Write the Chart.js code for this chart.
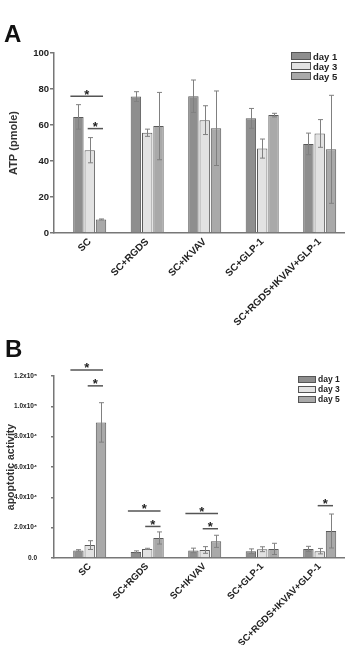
<!DOCTYPE html>
<html>
<head>
<meta charset="utf-8">
<script src="https://cdn.jsdelivr.net/npm/chart.js@4.4.1/dist/chart.umd.min.js"></script>
<style>
  body { margin: 0; width: 345px; height: 645px; overflow: hidden; background: #fff; position: relative;
         font-family: "Liberation Sans", Arial, sans-serif; color: #222; }
  canvas { position: absolute; left: 0; }
  .panel { position: absolute; font-weight: bold; font-size: 24px; line-height: 24px; color: #111; }
  .legend { position: absolute; font-weight: bold; color: #222; }
  .legend div { display: flex; align-items: center; height: 10px; }
  .legend span.box { display: inline-block; box-sizing: border-box; border: 1px solid #555; margin-right: 2px; }
</style>
</head>
<body>
<canvas id="chartA" width="345" height="330" style="top:0"></canvas>
<canvas id="chartB" width="345" height="315" style="top:330px"></canvas>
<div class="panel" style="left:4px; top:22px">A</div>
<div class="panel" style="left:5px; top:337px">B</div>
<div class="legend" id="legendA" style="left:291px; top:51px; font-size:9.5px"></div>
<div class="legend" id="legendB" style="left:298px; top:374px; font-size:8.5px"></div>
<script>
  // Données
  const categories = ['SC', 'SC+RGDS', 'SC+IKVAV', 'SC+GLP-1', 'SC+RGDS+IKVAV+GLP-1'];
  const seriesNames = ['day 1', 'day 3', 'day 5'];
  const seriesColors = ['#8e8e8e', '#e2e2e2', '#a9a9a9'];

  // A : ATP (pmole)
  const atpDay1 = [64.5, 75.8, 76, 63.7, 49.5];
  const atpDay3 = [46, 55.7, 62.7, 46.9, 55.3];
  const atpDay5 = [7.5, 59.4, 58.2, 65.5, 46.5];
  const atpErr1 = [6.8, 2.7, 9, 5.5, 6];
  const atpErr3 = [7, 2, 8, 5.3, 7.7];
  const atpErr5 = [0.3, 18.7, 20.7, 1, 30];
  const atpTicks = [0, 20, 40, 60, 80, 100];
  // [catégorie, série de départ, série d'arrivée, niveau]
  const atpSig = [[0, 0, 2, 76], [0, 1, 2, 58]];

  // B : apoptotic activity
  const apoDay1 = [5000, 4000, 5000, 4500, 6000];
  const apoDay3 = [8500, 6000, 5300, 5800, 4500];
  const apoDay5 = [89400, 13200, 11000, 6000, 17800];
  const apoErr1 = [500, 700, 1500, 1500, 1700];
  const apoErr3 = [2900, 400, 2200, 1600, 1800];
  const apoErr5 = [13000, 4000, 4000, 3700, 11200];
  const apoTicks = [0, 20000, 40000, 60000, 80000, 100000, 120000];
  const apoTickLabels = ['0.0', '2.0x10⁴', '4.0x10⁴', '6.0x10⁴', '8.0x10⁴', '1.0x10⁵', '1.2x10⁵'];
  const apoSig = [[0, 0, 2, 124000], [0, 1, 2, 113500], [1, 0, 2, 31000], [1, 1, 2, 20800],
                  [2, 0, 2, 29400], [2, 1, 2, 19300], [4, 1, 2, 34500]];

  Chart.defaults.font.family = '"Liberation Sans", Arial, sans-serif';
  Chart.defaults.color = '#222';

  // barres d'erreur
  function errorBars(errs) {
    return {
      id: 'errorBars',
      afterDatasetsDraw(chart) {
        const ctx = chart.ctx, y = chart.scales.y;
        ctx.save();
        ctx.strokeStyle = '#808080';
        ctx.lineWidth = 1;
        chart.data.datasets.forEach((ds, di) => {
          chart.getDatasetMeta(di).data.forEach((bar, i) => {
            const v = ds.data[i].y, e = errs[di][i];
            const x = Math.round(bar.x) + 0.5;
            const top = y.getPixelForValue(v + e), bot = y.getPixelForValue(Math.max(v - e, 0));
            ctx.beginPath();
            ctx.moveTo(x, top); ctx.lineTo(x, bot);
            ctx.moveTo(x - 2.5, top); ctx.lineTo(x + 2.5, top);
            ctx.moveTo(x - 2.5, bot); ctx.lineTo(x + 2.5, bot);
            ctx.stroke();
          });
        });
        ctx.restore();
      }
    };
  }

  // lignes de significativité + étoiles
  function sigMarks(marks) {
    return {
      id: 'sigMarks',
      afterDatasetsDraw(chart) {
        const ctx = chart.ctx, y = chart.scales.y;
        ctx.save();
        ctx.strokeStyle = '#555';
        ctx.lineWidth = 1.5;
        ctx.fillStyle = '#222';
        ctx.font = 'bold 13px "Liberation Sans", Arial, sans-serif';
        ctx.textAlign = 'center';
        ctx.textBaseline = 'alphabetic';
        marks.forEach(([cat, from, to, level]) => {
          const b1 = chart.getDatasetMeta(from).data[cat];
          const b2 = chart.getDatasetMeta(to).data[cat];
          const yy = y.getPixelForValue(level);
          const x1 = b1.x - (from === 0 ? 8 : 2), x2 = b2.x + 2;
          ctx.beginPath();
          ctx.moveTo(x1, yy); ctx.lineTo(x2, yy);
          ctx.stroke();
          ctx.fillText('*', (x1 + x2) / 2, yy + 2.5);
        });
        ctx.restore();
      }
    };
  }

  function makeChart(id, series, errs, marks, opts) {
    new Chart(document.getElementById(id), {
      type: 'bar',
      data: {
        datasets: series.map((vals, k) => ({
          label: seriesNames[k],
          data: vals.map((v, i) => ({ x: i, y: v })),
          backgroundColor: seriesColors[k],
          borderColor: '#5a5a5a',
          borderWidth: 1,
          categoryPercentage: 0.59,
          barPercentage: 0.92
        }))
      },
      options: {
        responsive: false,
        animation: false,
        layout: { padding: { top: opts.top, right: 0, bottom: 0, left: 0 } },
        plugins: { legend: { display: false }, tooltip: { enabled: false } },
        scales: {
          x: {
            type: 'linear',
            offset: false,
            min: -0.621,
            max: 4.44,
            afterBuildTicks: (s) => { s.ticks = categories.map((c, i) => ({ value: i })); },
            afterFit: (s) => { s.height = opts.xHeight; },
            grid: { display: false, drawTicks: false },
            border: { color: '#777', width: 1.5 },
            ticks: {
              autoSkip: false,
              minRotation: 45,
              maxRotation: 45,
              padding: 3,
              font: { size: opts.xFont, weight: 'bold' },
              callback: (v) => categories[v] ?? ''
            }
          },
          y: {
            min: 0,
            max: opts.yMax,
            afterBuildTicks: (s) => { s.ticks = opts.yTicks.map(v => ({ value: v })); },
            afterFit: (s) => { s.width = 54; },
            grid: { drawOnChartArea: false, tickLength: opts.tickLen, color: '#777', lineWidth: 1.5 },
            border: { color: '#777', width: 1.5 },
            ticks: {
              padding: opts.tickPad,
              font: { size: opts.yFont, weight: 'bold' },
              callback: opts.yLabel
            },
            title: {
              display: true,
              text: opts.title,
              color: '#333',
              font: { size: opts.titleFont, weight: 'bold' },
              padding: { top: opts.titlePad, bottom: 0 }
            }
          }
        }
      },
      plugins: [errorBars(errs), sigMarks(marks)]
    });
  }

  makeChart('chartA', [atpDay1, atpDay3, atpDay5], [atpErr1, atpErr3, atpErr5], atpSig, {
    top: 53, xHeight: 97, xFont: 10, yMax: 100, yTicks: atpTicks, tickLen: 4, tickPad: 1,
    yFont: 9.5, yLabel: (v) => v, title: 'ATP (pmole)', titleFont: 11, titlePad: 7
  });

  makeChart('chartB', [apoDay1, apoDay3, apoDay5], [apoErr1, apoErr3, apoErr5], apoSig, {
    top: 46, xHeight: 87, xFont: 9.5, yMax: 120000, yTicks: apoTicks, tickLen: 3, tickPad: 14,
    yFont: 6.5, yLabel: (v) => apoTickLabels[apoTicks.indexOf(v)], title: 'apoptotic activity',
    titleFont: 10.5, titlePad: 5
  });

  // légendes
  function buildLegend(id, w, h) {
    const el = document.getElementById(id);
    seriesNames.forEach((name, k) => {
      const row = document.createElement('div');
      const box = document.createElement('span');
      box.className = 'box';
      box.style.width = w + 'px';
      box.style.height = h + 'px';
      box.style.background = seriesColors[k];
      row.appendChild(box);
      row.appendChild(document.createTextNode(name));
      el.appendChild(row);
    });
  }
  buildLegend('legendA', 20, 8);
  buildLegend('legendB', 18, 7);
</script>
</body>
</html>
